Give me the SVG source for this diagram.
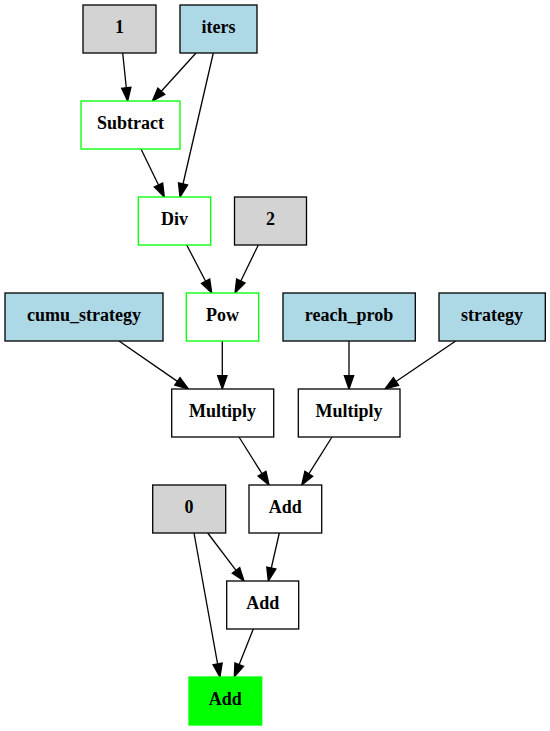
<svg xmlns="http://www.w3.org/2000/svg" width="550" height="731" viewBox="0 0 550 731">
<style>
.n rect{stroke:#000;stroke-width:1.3}
.gray rect{fill:#d3d3d3}
.blue rect{fill:#add8e6}
.op rect{fill:#fff;stroke:#00ff00}
.plain rect{fill:#fff}
.out rect{fill:#00ff00;stroke:#00ff00}
text{font-family:"Liberation Serif","Times New Roman",serif;font-weight:bold;font-size:18px;text-anchor:middle;fill:#000}
#edges line{stroke:#000;stroke-width:1.3;marker-end:url(#ah)}
</style>
<defs>
<marker id="ah" markerUnits="userSpaceOnUse" markerWidth="15" markerHeight="12" refX="0" refY="0" orient="auto" overflow="visible">
<path d="M0,-4.65 L13.3,0 L0,4.65 Z" fill="#000" stroke="#000" stroke-width="1.3"/>
</marker>
</defs>
<rect width="550" height="731" fill="#fff"/>
<g id="edges">
<line x1="122.7" y1="53" x2="126.3" y2="87.8"/>
<line x1="196" y1="53" x2="161.3" y2="91.2"/>
<line x1="213.3" y1="53" x2="183" y2="184"/>
<line x1="141" y1="149" x2="158.5" y2="185"/>
<line x1="186.7" y1="245" x2="205.6" y2="281.2"/>
<line x1="258.3" y1="245" x2="240.8" y2="281"/>
<line x1="119" y1="341" x2="177.4" y2="381.4"/>
<line x1="222.3" y1="341" x2="222.3" y2="375.7"/>
<line x1="349" y1="341" x2="349" y2="375.7"/>
<line x1="455.7" y1="341" x2="396" y2="381.5"/>
<line x1="239" y1="437" x2="262" y2="473.7"/>
<line x1="332" y1="437" x2="308.8" y2="473.8"/>
<line x1="279.3" y1="533" x2="271.3" y2="568"/>
<line x1="207.7" y1="533" x2="236" y2="570.4"/>
<line x1="194" y1="533" x2="217.6" y2="663.9"/>
<line x1="253.3" y1="629" x2="239.2" y2="664.6"/>
</g>
<g id="node_1" class="n gray"><rect x="83" y="5" width="73" height="48"/><text x="119.5" y="33.3">1</text></g>
<g id="node_iters" class="n blue"><rect x="180" y="5" width="77" height="48"/><text x="218.5" y="33.3">iters</text></g>
<g id="node_subtract" class="n op"><rect x="81" y="101" width="99" height="48"/><text x="130.5" y="129.3">Subtract</text></g>
<g id="node_div" class="n op"><rect x="138.3" y="197" width="72.4" height="48"/><text x="174.5" y="225.3">Div</text></g>
<g id="node_2" class="n gray"><rect x="234.5" y="197" width="72" height="48"/><text x="270.5" y="225.3">2</text></g>
<g id="node_cumu_strategy" class="n blue"><rect x="5" y="293" width="158" height="48"/><text x="84" y="321.3">cumu_strategy</text></g>
<g id="node_pow" class="n op"><rect x="186.3" y="293" width="72.4" height="48"/><text x="222.5" y="321.3">Pow</text></g>
<g id="node_reach_prob" class="n blue"><rect x="283" y="293" width="132.3" height="48"/><text x="349" y="321.3">reach_prob</text></g>
<g id="node_strategy" class="n blue"><rect x="439" y="293" width="106.3" height="48"/><text x="492" y="321.3">strategy</text></g>
<g id="node_multiply1" class="n plain"><rect x="171.7" y="389" width="102" height="48"/><text x="222.5" y="417.3">Multiply</text></g>
<g id="node_multiply2" class="n plain"><rect x="298.3" y="389" width="101.7" height="48"/><text x="349" y="417.3">Multiply</text></g>
<g id="node_0" class="n gray"><rect x="152.7" y="485" width="73" height="48"/><text x="189" y="513.3">0</text></g>
<g id="node_add1" class="n plain"><rect x="249" y="485" width="72.7" height="48"/><text x="285.3" y="513.3">Add</text></g>
<g id="node_add2" class="n plain"><rect x="226.7" y="581" width="72" height="48"/><text x="262.7" y="609.3">Add</text></g>
<g id="node_add_out" class="n out"><rect x="189" y="677" width="72.7" height="48"/><text x="225.3" y="705.3">Add</text></g>
</svg>
